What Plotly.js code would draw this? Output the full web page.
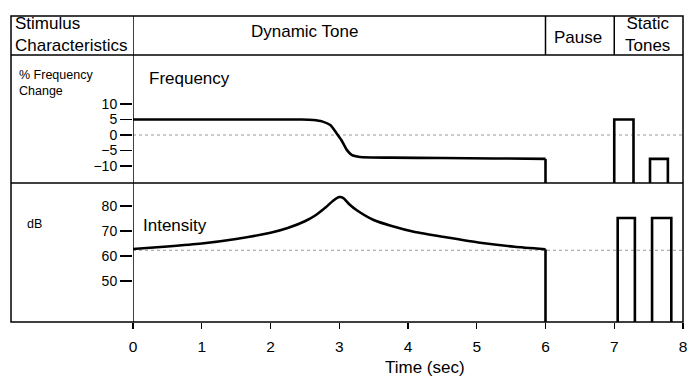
<!DOCTYPE html>
<html>
<head>
<meta charset="utf-8">
<script src="https://cdn.plot.ly/plotly-3.0.1.min.js"></script>
<style>html,body{margin:0;padding:0;background:#fff;}#chart{width:700px;height:381px;}</style>
</head>
<body>
<div id="chart"></div>
<script>
// ---- Data ----
const xTicks = [0, 1, 2, 3, 4, 5, 6, 7, 8];
const freqTicks = [10, 5, 0, -5, -10];
const dbTicks = [80, 70, 60, 50];

// Dynamic tone: frequency change (%) over time (sec)
const freqTime = [0, 1, 2, 2.45, 2.62, 2.75, 2.87, 2.96, 3.03, 3.11, 3.18, 3.3, 3.75, 4.5, 5.25, 6];
const freqValue = [5, 5, 5, 5, 4.85, 4.4, 3.2, 0.6, -1.6, -4.8, -6.4, -7.1, -7.3, -7.4, -7.55, -7.7];

// Dynamic tone: intensity (dB) over time (sec)
const intTime = [0, 0.5, 1, 1.5, 2, 2.25, 2.5, 2.65, 2.8, 2.92, 3.0, 3.06, 3.15, 3.25, 3.5, 3.75, 4.1, 4.55, 5.05, 5.55, 6];
const intValue = [62.8, 63.8, 65.0, 66.8, 69.3, 71.2, 73.9, 76.2, 79.4, 82.3, 83.6, 83.2, 80.6, 78.4, 74.4, 72.1, 69.6, 67.5, 65.3, 63.7, 62.7];

// Static tones
const freqToneStart = [7.0, 7.52];
const freqToneEnd = [7.28, 7.78];
const freqToneValue = [5, -7.7];
const intToneStart = [7.05, 7.55];
const intToneEnd = [7.3, 7.83];
const intToneValue = [75.2, 75.2];

// Reference (baseline) levels
const freqRef = 0;
const intRef = 62.3;

// Headers / labels
const headerLabels = ["Stimulus<br>Characteristics", "Dynamic Tone", "Pause", "Static<br>Tones"];

// ---- Layout constants ----
const FREQ_RANGE = [-15.48, 25.8];
const DB_RANGE = [33.6, 89.2];
const FONT = "Liberation Sans, Arial, Helvetica, sans-serif";

const traces = [];
// reference dotted lines
traces.push({x: [0, 8], y: [freqRef, freqRef], xaxis: 'x', yaxis: 'y', mode: 'lines',
  line: {color: '#9a9a9a', width: 1, dash: 'dot'}, hoverinfo: 'skip'});
traces.push({x: [0, 8], y: [intRef, intRef], xaxis: 'x', yaxis: 'y2', mode: 'lines',
  line: {color: '#9a9a9a', width: 1, dash: 'dot'}, hoverinfo: 'skip'});

// dynamic frequency curve
traces.push({x: freqTime, y: freqValue, xaxis: 'x', yaxis: 'y', mode: 'lines',
  line: {color: '#000', width: 2.6, shape: 'spline', smoothing: 0.5}});
// drop to panel floor at end of dynamic tone
const fEnd = freqTime.length - 1;
traces.push({x: [freqTime[fEnd], freqTime[fEnd]], y: [freqValue[fEnd], FREQ_RANGE[0]], xaxis: 'x', yaxis: 'y', mode: 'lines',
  line: {color: '#000', width: 2.6}});
// dynamic intensity curve
traces.push({x: intTime, y: intValue, xaxis: 'x', yaxis: 'y2', mode: 'lines',
  line: {color: '#000', width: 2.6, shape: 'spline', smoothing: 0.5}});
const iEnd = intTime.length - 1;
traces.push({x: [intTime[iEnd], intTime[iEnd]], y: [intValue[iEnd], DB_RANGE[0]], xaxis: 'x', yaxis: 'y2', mode: 'lines',
  line: {color: '#000', width: 2.6}});

// static tone bars (outlines)
function toneOutline(s, e, v, floor, ax) {
  return {x: [s, s, e, e], y: [floor, v, v, floor], xaxis: 'x', yaxis: ax, mode: 'lines',
    line: {color: '#000', width: 2.6}, hoverinfo: 'skip'};
}
for (let i = 0; i < freqToneStart.length; i++) {
  traces.push(toneOutline(freqToneStart[i], freqToneEnd[i], freqToneValue[i], FREQ_RANGE[0], 'y'));
  traces.push(toneOutline(intToneStart[i], intToneEnd[i], intToneValue[i], DB_RANGE[0], 'y2'));
}

// paper coordinates
const LEFT = -0.2218;   // outer left border
const HDR = 0.8725;     // header bottom
const MID = 0.4542;     // divider between panels

const blk = {color: '#000', width: 1.5};
const shapes = [
  {type: 'rect', xref: 'paper', yref: 'paper', x0: LEFT, x1: 1, y0: 0, y1: 1, line: blk},
  {type: 'line', xref: 'paper', yref: 'paper', x0: LEFT, x1: 1, y0: HDR, y1: HDR, line: blk},
  {type: 'line', xref: 'paper', yref: 'paper', x0: LEFT, x1: 1, y0: MID, y1: MID, line: blk},
  {type: 'line', xref: 'x', yref: 'paper', x0: 0, x1: 0, y0: 0, y1: 1, line: blk},
  {type: 'line', xref: 'x', yref: 'paper', x0: 6, x1: 6, y0: HDR, y1: 1, line: blk},
  {type: 'line', xref: 'x', yref: 'paper', x0: 7, x1: 7, y0: HDR, y1: 1, line: blk}
];

const hf = {family: FONT, size: 17, color: '#000'};
const annotations = [
  {text: headerLabels[0], xref: 'paper', yref: 'paper', x: -0.2175, y: 0.938, xanchor: 'left', yanchor: 'middle', align: 'left', showarrow: false, font: hf},
  {text: headerLabels[1], xref: 'x', yref: 'paper', x: 2.5, y: 0.948, xanchor: 'center', yanchor: 'middle', showarrow: false, font: hf},
  {text: headerLabels[2], xref: 'x', yref: 'paper', x: 6.47, y: 0.931, xanchor: 'center', yanchor: 'middle', showarrow: false, font: hf},
  {text: headerLabels[3], xref: 'x', yref: 'paper', x: 7.48, y: 0.938, xanchor: 'center', yanchor: 'middle', align: 'center', showarrow: false, font: hf},
  {text: "% Frequency<br>Change", xref: 'paper', yref: 'paper', x: -0.211, y: 0.780, xanchor: 'left', yanchor: 'middle', align: 'left', showarrow: false, font: {family: FONT, size: 12.5, color: '#000'}},
  {text: "Frequency", xref: 'x', yref: 'paper', x: 0.2, y: 0.797, xanchor: 'left', yanchor: 'middle', showarrow: false, font: hf},
  {text: "dB", xref: 'paper', yref: 'paper', x: -0.197, y: 0.320, xanchor: 'left', yanchor: 'middle', showarrow: false, font: {family: FONT, size: 12.5, color: '#000'}},
  {text: "Intensity", xref: 'x', yref: 'paper', x: 0.12, y: 0.314, xanchor: 'left', yanchor: 'middle', showarrow: false, font: hf},
  {text: "Time (sec)", xref: 'x', yref: 'paper', x: 4.25, y: -0.150, xanchor: 'center', yanchor: 'middle', showarrow: false, font: hf}
];

const layout = {
  width: 700, height: 381,
  margin: {l: 133, r: 17, t: 16, b: 59},
  paper_bgcolor: '#fff', plot_bgcolor: '#fff',
  showlegend: false,
  font: {family: FONT, color: '#000'},
  xaxis: {range: [0, 8], domain: [0, 1], anchor: 'y2', tickvals: xTicks,
    ticks: 'outside', ticklen: 6, tickwidth: 1.2, tickcolor: '#000',
    showgrid: false, zeroline: false, showline: false, ticklabelstandoff: 4,
    tickfont: {family: FONT, size: 15.5, color: '#000'}},
  yaxis: {domain: [MID, HDR], range: FREQ_RANGE, anchor: 'x', tickvals: freqTicks,
    ticks: 'outside', ticklen: 12, tickwidth: 1.2, tickcolor: '#000',
    showgrid: false, zeroline: false, showline: false,
    tickfont: {family: FONT, size: 14, color: '#000'}},
  yaxis2: {domain: [0, MID], range: DB_RANGE, anchor: 'x', tickvals: dbTicks,
    ticks: 'outside', ticklen: 12, tickwidth: 1.2, tickcolor: '#000',
    showgrid: false, zeroline: false, showline: false,
    tickfont: {family: FONT, size: 14, color: '#000'}},
  shapes: shapes,
  annotations: annotations
};

Plotly.newPlot('chart', traces, layout, {displayModeBar: false, staticPlot: true});
</script>
</body>
</html>
